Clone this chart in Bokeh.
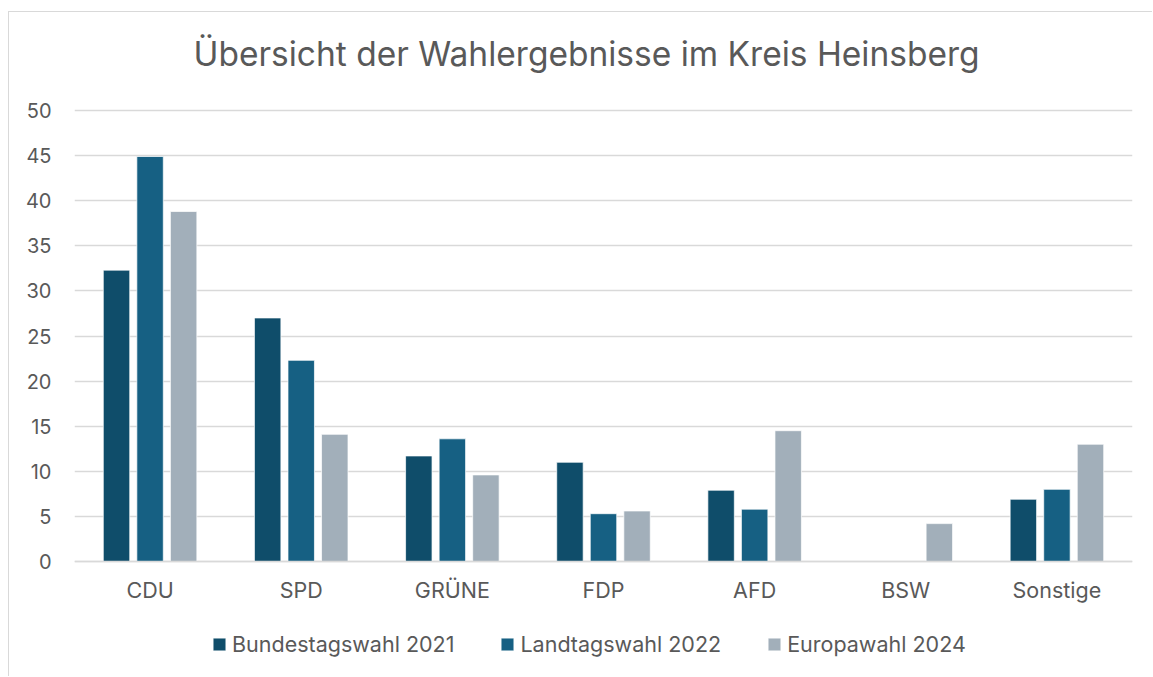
from bokeh.plotting import figure
from bokeh.models import ColumnDataSource, FactorRange, Legend, LegendItem, Range1d, FixedTicker, Label
from bokeh.transform import dodge
from bokeh.embed import file_html
from bokeh.resources import INLINE

nan = float("nan")

categories = ["CDU", "SPD", "GRÜNE", "FDP", "AFD", "BSW", "Sonstige"]
series_names = ["Bundestagswahl 2021", "Landtagswahl 2022", "Europawahl 2024"]
bundestag_2021 = [32.3, 27.0, 11.7, 11.0, 7.9, nan, 6.9]
landtag_2022 = [44.9, 22.3, 13.6, 5.3, 5.8, nan, 8.0]
europa_2024 = [38.8, 14.1, 9.6, 5.6, 14.5, 4.2, 13.0]
y_ticks = [0, 5, 10, 15, 20, 25, 30, 35, 40, 45, 50]
title_text = "Übersicht der Wahlergebnisse im Kreis Heinsberg"

colors = ["#0F4D6A", "#166083", "#A2AFBA"]
FONT = "Inter"
TEXT_COLOR = "#595959"
GRID_COLOR = "#D9D9D9"

# layout (pixels)
W, H = 1144, 665
PX_PER_UNIT = 9.02          # vertical pixels per percentage point
ABOVE_50 = 98               # pixels from canvas top to the 50 line
BELOW_0 = 116               # pixels from the 0 line to canvas bottom

source = ColumnDataSource(data=dict(
    cat=categories,
    bund=bundestag_2021,
    land=landtag_2022,
    euro=europa_2024,
))

p = figure(
    width=W, height=H,
    x_range=FactorRange(factors=categories, range_padding=0),
    y_range=Range1d(-BELOW_0 / PX_PER_UNIT, 50 + ABOVE_50 / PX_PER_UNIT),
    output_backend="svg", toolbar_location=None,
    min_border_left=65, min_border_right=21, min_border_top=0, min_border_bottom=0,
)
p.styles = {"margin-left": "8px", "margin-top": "11px",
            "border-left": "1px solid #D9D9D9", "border-top": "1px solid #D9D9D9"}

bar_w = 0.175
off = 0.222
renderers = []
for field, dx, col in zip(["bund", "land", "euro"], [-off, 0, off], colors):
    r = p.vbar(x=dodge("cat", dx, range=p.x_range), top=field, width=bar_w, source=source,
               fill_color=col, line_color="white", line_width=1, line_alpha=0.7)
    renderers.append(r)

p.outline_line_color = None
p.xgrid.grid_line_color = None
p.ygrid.grid_line_color = GRID_COLOR
p.ygrid.grid_line_width = 1.4
p.ygrid.ticker = FixedTicker(ticks=y_ticks)

p.yaxis.ticker = FixedTicker(ticks=y_ticks)
p.yaxis.axis_line_color = None
p.yaxis.major_tick_line_color = None
p.yaxis.minor_tick_line_color = None
p.yaxis.major_label_standoff = 17
p.yaxis.major_label_text_font = FONT
p.yaxis.major_label_text_font_size = "20px"
p.yaxis.major_label_text_color = TEXT_COLOR

p.xaxis.fixed_location = 0
p.xaxis.axis_line_color = GRID_COLOR
p.xaxis.axis_line_width = 1.4
p.xaxis.major_tick_line_color = None
p.xaxis.minor_tick_line_color = None
p.xaxis.major_label_standoff = 9
p.xaxis.major_label_text_font = FONT
p.xaxis.major_label_text_font_size = "21.5px"
p.xaxis.major_label_text_color = TEXT_COLOR

title = Label(
    x=512, y=624, x_units="screen", y_units="screen", text=title_text,
    text_align="center", text_baseline="alphabetic",
    text_font=FONT, text_font_size="33.5px", text_color=TEXT_COLOR,
)
p.add_layout(title)

legend = Legend(
    items=[LegendItem(label=n, renderers=[r]) for n, r in zip(series_names, renderers)],
    orientation="horizontal", location=(137, 20),
    glyph_width=16, glyph_height=16, label_standoff=5, spacing=45,
    label_text_font=FONT, label_text_font_size="21.5px", label_text_color=TEXT_COLOR,
    border_line_color=None, background_fill_alpha=0, padding=0, margin=0,
)
p.add_layout(legend, "center")

open("out.html", "w").write(file_html(p, INLINE))
